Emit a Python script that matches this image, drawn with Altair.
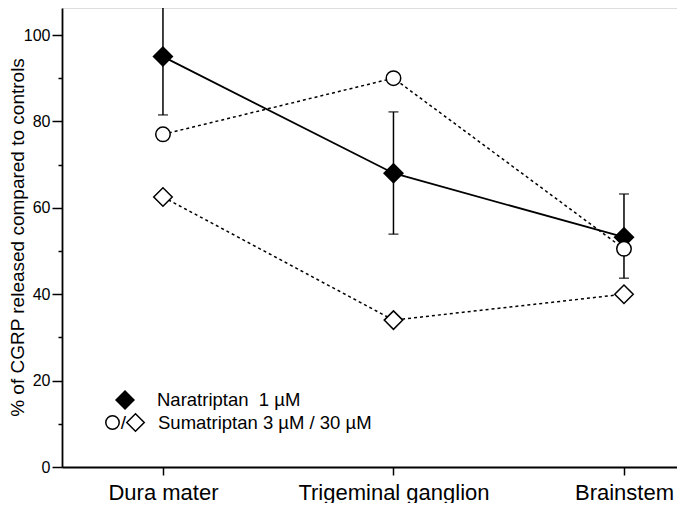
import json
import altair as alt
import pandas as pd

# ---- data ----
categories = ["Dura mater", "Trigeminal ganglion", "Brainstem"]
positions = [0, 1, 2]
nara = [95.0, 68.0, 53.2]
nara_low = [81.5, 53.9, 43.7]
nara_high = [107.9, 82.2, 63.2]
suma3 = [77.0, 90.0, 50.5]
suma30 = [62.5, 34.0, 40.0]
y_ticks = [0, 10, 20, 30, 40, 50, 60, 70, 80, 90, 100]
legend_labels = ["Naratriptan\u00a0 1 µM", "Sumatriptan 3 µM / 30 µM"]

rows = []
for i, c in enumerate(categories):
    rows.append(dict(pos=positions[i], cat=c, series="nara", value=nara[i], low=nara_low[i], high=nara_high[i]))
    rows.append(dict(pos=positions[i], cat=c, series="s3", value=suma3[i], low=None, high=None))
    rows.append(dict(pos=positions[i], cat=c, series="s30", value=suma30[i], low=None, high=None))
df = pd.DataFrame(rows)

FONT = "Liberation Sans"
xscale = alt.Scale(domain=[-0.438, 2.23], nice=False, zero=False)
yscale = alt.Scale(domain=[0, 106.25], nice=False, zero=False)

xaxis = alt.Axis(
    values=positions,
    labelExpr=json.dumps(categories) + "[datum.value]",
    title=None, grid=False, labelLimit=0,
    labelFont=FONT, labelFontSize=22, labelColor="black",
    labelBaseline="alphabetic", labelPadding=24,
    tickSize=8, tickWidth=1.5, tickColor="black",
    domainColor="black", domainWidth=1.8,
)
yaxis = alt.Axis(
    values=y_ticks,
    labelExpr="datum.value % 20 === 0 ? datum.label : ''",
    title="% of CGRP released compared to controls",
    titleFont=FONT, titleFontSize=19, titleFontWeight="normal", titleColor="black",
    titleX=-38.5, titleY=229, titleAngle=270, titleAlign="center", titleBaseline="alphabetic",
    grid=False,
    labelFont=FONT, labelFontSize=16, labelColor="black", labelPadding=2,
    tickSize={"condition": {"test": "datum.value % 20 === 0", "value": 10}, "value": 4},
    tickWidth=1.5, tickColor="black",
    domainColor="black", domainWidth=1.8,
)

X = alt.X("pos:Q", scale=xscale, axis=xaxis)

def Y(field):
    return alt.Y(field + ":Q", scale=yscale, axis=yaxis)

base = alt.Chart(df)

err = base.transform_filter("datum.series === 'nara'").mark_rule(color="black", strokeWidth=1.5).encode(
    x=X, y=Y("low"), y2="high:Q")
cap_lo = base.transform_filter("datum.series === 'nara'").mark_tick(
    color="black", orient="horizontal", size=10, thickness=1.5).encode(x=X, y=Y("low"))
cap_hi = base.transform_filter("datum.series === 'nara'").mark_tick(
    color="black", orient="horizontal", size=10, thickness=1.5).encode(x=X, y=Y("high"))

line_n = base.transform_filter("datum.series === 'nara'").mark_line(
    color="black", strokeWidth=1.8).encode(x=X, y=Y("value"))
line_s3 = base.transform_filter("datum.series === 's3'").mark_line(
    color="black", strokeWidth=1.5, strokeDash=[3, 3]).encode(x=X, y=Y("value"))
line_s30 = base.transform_filter("datum.series === 's30'").mark_line(
    color="black", strokeWidth=1.5, strokeDash=[3, 3]).encode(x=X, y=Y("value"))

pt_n = base.transform_filter("datum.series === 'nara'").mark_point(
    shape="diamond", filled=True, color="black", size=441, opacity=1).encode(x=X, y=Y("value"))
pt_s3 = base.transform_filter("datum.series === 's3'").mark_point(
    shape="circle", filled=True, fill="white", stroke="black", strokeWidth=1.5, size=210, opacity=1
).encode(x=X, y=Y("value"))
pt_s30 = base.transform_filter("datum.series === 's30'").mark_point(
    shape="diamond", filled=True, fill="white", stroke="black", strokeWidth=1.5, size=342, opacity=1
).encode(x=X, y=Y("value"))

# ---- legend (layout only) ----
leg = alt.Chart(pd.DataFrame({"label": legend_labels}))
leg_d = leg.transform_filter(alt.datum.label == legend_labels[0]).mark_point(
    shape="diamond", filled=True, color="black", size=400, opacity=1).encode(
    x=alt.value(63), y=alt.value(392))
leg_c = leg.transform_filter(alt.datum.label == legend_labels[1]).mark_point(
    shape="circle", filled=True, fill="white", stroke="black", strokeWidth=1.5, size=180, opacity=1).encode(
    x=alt.value(50.5), y=alt.value(414.5))
leg_slash = leg.transform_filter(alt.datum.label == legend_labels[1]).mark_text(
    text="/", font=FONT, fontSize=19, color="black", align="center", baseline="middle").encode(
    x=alt.value(61.5), y=alt.value(414.5))
leg_od = leg.transform_filter(alt.datum.label == legend_labels[1]).mark_point(
    shape="diamond", filled=True, fill="white", stroke="black", strokeWidth=1.5, size=306, opacity=1).encode(
    x=alt.value(73.5), y=alt.value(414.5))
leg_t1 = leg.transform_filter(alt.datum.label == legend_labels[0]).mark_text(
    font=FONT, fontSize=18.5, color="black", align="left", baseline="middle").encode(
    text="label:N", x=alt.value(95), y=alt.value(392))
leg_t2 = leg.transform_filter(alt.datum.label == legend_labels[1]).mark_text(
    font=FONT, fontSize=18.5, color="black", align="left", baseline="middle").encode(
    text="label:N", x=alt.value(96), y=alt.value(415))

chart = alt.layer(
    err, cap_lo, cap_hi, line_n, line_s3, line_s30, pt_n, pt_s3, pt_s30,
    leg_d, leg_c, leg_slash, leg_od, leg_t1, leg_t2,
).properties(
    width=615, height=459,
    autosize=alt.AutoSizeParams(type="none"),
    padding={"left": 54, "top": 0, "right": 0, "bottom": 36},
).configure_view(stroke=None).configure(background="white")

chart.save("out.html", embed_options={"renderer": "svg", "actions": False})
